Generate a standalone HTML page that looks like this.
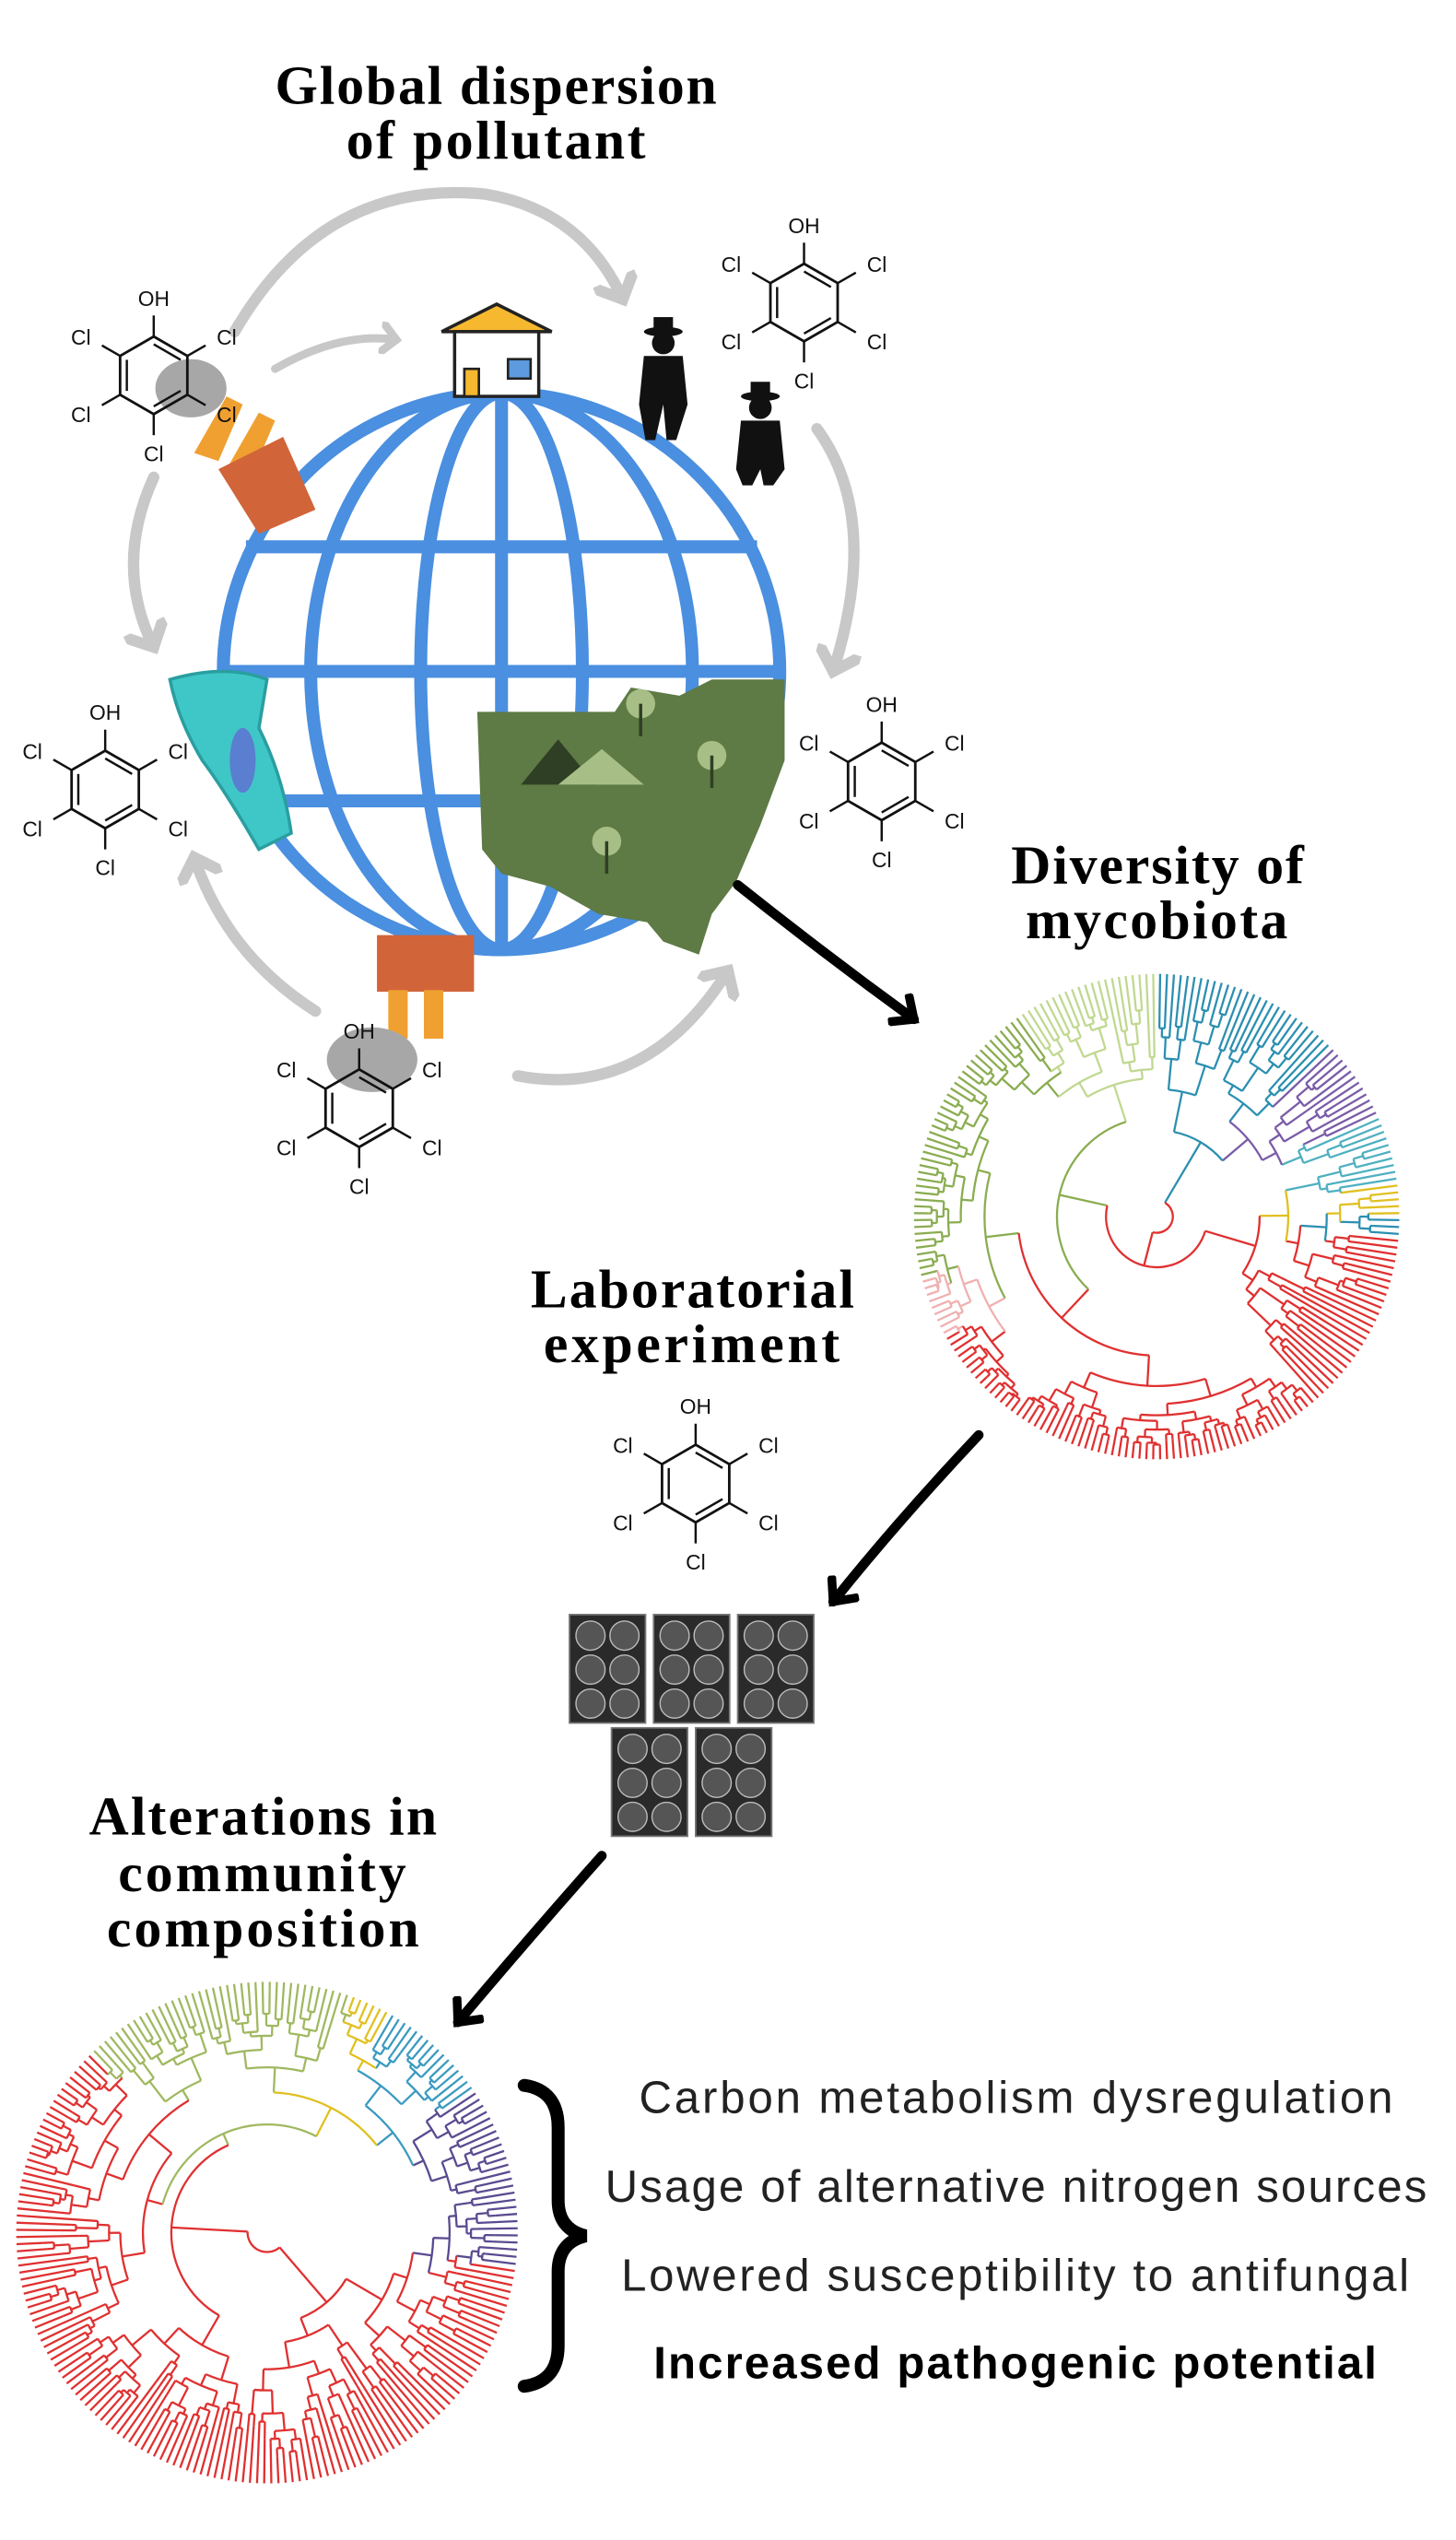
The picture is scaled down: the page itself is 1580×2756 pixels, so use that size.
<!DOCTYPE html>
<html><head><meta charset="utf-8">
<style>
html,body{margin:0;padding:0;background:#fff;}
svg{display:block;}
.t{font-family:"Liberation Serif",serif;font-weight:bold;font-size:34px;fill:#000;}
.r{font-family:"Liberation Sans",sans-serif;font-size:28px;fill:#222;}
.m{font-family:"Liberation Sans",sans-serif;font-size:13px;fill:#111;}
</style></head>
<body>
<svg id="s" width="1580" height="2756" viewBox="0 0 900 1570" xmlns="http://www.w3.org/2000/svg">
<defs>
<marker id="ga" markerWidth="4" markerHeight="4" refX="2" refY="2" orient="auto" markerUnits="strokeWidth"><path d="M0,0 L2,2 L0,4" fill="none" stroke="#c8c8c8" stroke-width="1"/></marker>
<marker id="ba" markerWidth="4" markerHeight="4" refX="2.2" refY="2" orient="auto" markerUnits="strokeWidth"><path d="M0.2,0.2 L2.2,2 L0.2,3.8" fill="none" stroke="#000" stroke-width="0.9"/></marker>
</defs>

<text class="t" x="170" y="64" textLength="273">Global dispersion</text>
<text class="t" x="214" y="98" textLength="185">of pollutant</text>
<text class="t" x="625" y="546" textLength="181">Diversity of</text>
<text class="t" x="634" y="580" textLength="162">mycobiota</text>
<text class="t" x="328" y="808" textLength="200">Laboratorial</text>
<text class="t" x="336" y="842" textLength="183">experiment</text>
<text class="t" x="55" y="1134" textLength="215">Alterations in</text>
<text class="t" x="73" y="1169" textLength="178">community</text>
<text class="t" x="66" y="1203" textLength="193">composition</text>

<g fill="none" stroke="#c8c8c8" stroke-width="7" stroke-linecap="round">
<path d="M145,205 Q200,110 300,120 Q360,130 385,185" marker-end="url(#ga)"/>
<path d="M170,228 Q210,205 245,210" marker-end="url(#ga)" stroke-width="5"/>
<path d="M505,265 Q545,320 515,415" marker-end="url(#ga)"/>
<path d="M95,295 Q70,350 95,400" marker-end="url(#ga)"/>
<path d="M195,625 Q140,590 120,530" marker-end="url(#ga)"/>
<path d="M320,665 Q400,680 450,600" marker-end="url(#ga)"/>
</g>

<g fill="none" stroke="#4a8fe0" stroke-width="8">
<circle cx="310" cy="415" r="172"/>
<ellipse cx="310" cy="415" rx="50" ry="172"/>
<ellipse cx="310" cy="415" rx="118" ry="172"/>
<line x1="310" y1="243" x2="310" y2="587"/>
<line x1="152" y1="338" x2="468" y2="338"/>
<line x1="138" y1="415" x2="482" y2="415"/>
<line x1="152" y1="495" x2="468" y2="495"/>
</g>
<path d="M295,440 L380,440 L390,425 L420,430 L440,420 L485,420 L485,470 L470,510 L455,545 L440,565 L432,590 L410,582 L400,570 L370,565 L340,548 L310,540 L298,525 Z" fill="#5e7a45"/>
<path d="M322,485 L345,457 L368,485 Z" fill="#2f3f25"/>
<path d="M345,485 L372,463 L398,485 Z" fill="#a7bf86"/>
<g fill="#a7bf86"><circle cx="396" cy="435" r="9"/><circle cx="440" cy="467" r="9"/><circle cx="375" cy="520" r="9"/></g>
<g stroke="#2f3f25" stroke-width="2"><line x1="396" y1="435" x2="396" y2="455"/><line x1="440" y1="467" x2="440" y2="487"/><line x1="375" y1="520" x2="375" y2="540"/></g>
<path d="M105,420 Q140,410 165,420 L160,450 Q175,480 180,515 L160,525 Q140,490 125,470 Q110,445 105,420 Z" fill="#3fc7c7" stroke="#2a9ea0" stroke-width="2"/>
<ellipse cx="150" cy="470" rx="8" ry="20" fill="#5a7ed0"/>
<path d="M273,205 L307,188 L341,205 Z" fill="#f5b82e" stroke="#222" stroke-width="2"/>
<rect x="281" y="205" width="52" height="40" fill="#fff" stroke="#222" stroke-width="2"/>
<rect x="287" y="228" width="9" height="17" fill="#f5b82e" stroke="#222" stroke-width="1.5"/>
<rect x="314" y="222" width="14" height="12" fill="#5e9ae0" stroke="#222" stroke-width="1.5"/>
<g fill="#111">
<ellipse cx="410" cy="205" rx="12" ry="3"/><rect x="404" y="196" width="12" height="9"/><circle cx="410" cy="212" r="7"/>
<path d="M398,220 L422,220 L425,250 L418,272 L412,272 L410,250 L405,272 L399,272 L395,250 Z"/>
<ellipse cx="470" cy="245" rx="12" ry="3"/><rect x="464" y="236" width="12" height="9"/><circle cx="470" cy="252" r="7"/>
<path d="M458,260 L482,260 L485,290 L478,300 L472,300 L470,290 L465,300 L459,300 L455,290 Z"/>
</g>
<g>
<path d="M120,280 L140,245 L150,250 L135,285 Z" fill="#f0a030"/>
<path d="M140,290 L160,255 L170,260 L155,295 Z" fill="#f0a030"/>
<path d="M135,290 L175,270 L195,315 L160,330 Z" fill="#d2643a"/>
<ellipse cx="118" cy="240" rx="22" ry="18" fill="#a7a7a7"/>
<rect x="233" y="578" width="60" height="35" fill="#d2643a"/>
<rect x="240" y="612" width="12" height="30" fill="#f0a030"/><rect x="262" y="612" width="12" height="30" fill="#f0a030"/>
<ellipse cx="230" cy="655" rx="28" ry="20" fill="#a7a7a7"/>
</g>
<g id="mols"></g>

<g fill="none" stroke="#000" stroke-width="6" stroke-linecap="round">
<path d="M456,547 Q510,590 565,630" marker-end="url(#ba)"/>
<path d="M605,887 Q555,940 515,990" marker-end="url(#ba)"/>
<path d="M372,1147 Q325,1200 283,1250" marker-end="url(#ba)"/>
</g>

<g id="plates"></g>
<g id="trees" fill="none" stroke-width="1.3"></g>

<path d="M324,1289 Q345,1292 345,1315 L345,1360 Q345,1378 362,1382 Q345,1386 345,1404 L345,1450 Q345,1472 324,1475" fill="none" stroke="#000" stroke-width="8" stroke-linecap="round"/>

<text class="r" x="395" y="1306" textLength="466">Carbon metabolism dysregulation</text>
<text class="r" x="374" y="1361" textLength="508">Usage of alternative nitrogen sources</text>
<text class="r" x="384" y="1416" textLength="487">Lowered susceptibility to antifungal</text>
<text class="r" x="404" y="1470" textLength="447" font-weight="bold" style="fill:#000">Increased pathogenic potential</text>
</svg>
<script>
var NS="http://www.w3.org/2000/svg";
function el(t,a,p){var e=document.createElementNS(NS,t);for(var k in a)e.setAttribute(k,a[k]);(p||document.getElementById('s')).appendChild(e);return e;}
var mg=document.getElementById('mols');
[[95,232],[497,187],[65,488],[545,483],[222,685],[430,917]].forEach(function(c){
 var x=c[0],y=c[1],r=24,pts=[];
 for(var i=0;i<6;i++){var a=Math.PI/180*(-90+60*i);pts.push([x+r*Math.cos(a),y+r*Math.sin(a)]);}
 el('polygon',{points:pts.map(p=>p.join(',')).join(' '),fill:'none',stroke:'#111','stroke-width':1.6},mg);
 [[0,1],[2,3],[4,5]].forEach(function(e){var a=pts[e[0]],b=pts[e[1]];
  function s(p){return [p[0]+(x-p[0])*0.2,p[1]+(y-p[1])*0.2];}var A=s(a),B=s(b);
  el('line',{x1:A[0],y1:A[1],x2:B[0],y2:B[1],stroke:'#111','stroke-width':1.4},mg);});
 for(var i=0;i<6;i++){var a=Math.PI/180*(-90+60*i);
  el('line',{x1:pts[i][0],y1:pts[i][1],x2:x+(r+13)*Math.cos(a),y2:y+(r+13)*Math.sin(a),stroke:'#111','stroke-width':1.4},mg);
  var tx=x+(r+28)*Math.cos(a),ty=y+(r+24)*Math.sin(a)+5;
  var t=el('text',{x:tx,y:ty,'text-anchor':'middle','class':'m'},mg);t.textContent=i==0?'OH':'Cl';}
});
var pg=document.getElementById('plates');
[[352,998],[404,998],[456,998],[378,1068],[430,1068]].forEach(function(p){
 el('rect',{x:p[0],y:p[1],width:47,height:67,fill:'#2a2a2a',stroke:'#777','stroke-width':1},pg);
 for(var i=0;i<3;i++)for(var j=0;j<2;j++)el('circle',{cx:p[0]+13+j*21,cy:p[1]+13+i*21,r:9,fill:'#555',stroke:'#bbb','stroke-width':0.8},pg);
});
var seed=7;function rnd(){seed=(seed*16807)%2147483647;return seed/2147483647;}
var tg=document.getElementById('trees');
function tree(cx,cy,R,a0,a1,n,colf,r0){
 function P(a,r){return [cx+r*Math.cos(a*Math.PI/180),cy+r*Math.sin(a*Math.PI/180)];}
 function rad(a,r1,r2){var A=P(a,r1),B=P(a,r2);el('line',{x1:A[0],y1:A[1],x2:B[0],y2:B[1],stroke:colf(a)},tg);}
 function arc(aA,aB,r){if(Math.abs(aB-aA)<0.01)return;var A=P(aA,r),B=P(aB,r);var lg=Math.abs(aB-aA)>180?1:0;
  el('path',{d:'M'+A[0]+','+A[1]+' A'+r+','+r+' 0 '+lg+' '+(aB>aA?1:0)+' '+B[0]+','+B[1],stroke:colf((aA+aB)/2)},tg);}
 function node(s,e,r,k){
  if(k==1){var a=(s+e)/2;rad(a,r,R);return a;}
  var sp=Math.max(1,Math.min(k-1,Math.round(k*(0.2+rnd()*0.6))));
  var m=s+(e-s)*sp/k;
  var rA=r+(R-r)*(0.08+rnd()*0.25),rB=r+(R-r)*(0.08+rnd()*0.25);
  var cA=node(s,m,rA,sp),cB=node(m,e,rB,k-sp);
  rad(cA,r,rA);rad(cB,r,rB);arc(cA,cB,r);return (cA+cB)/2;
 }
 node(a0,a1,r0,n);
}
tree(715,752,150,-90,270,220,function(a){
 if(a<-45)return '#2b8fb0';if(a<-25)return '#7a5ba8';if(a<-8)return '#4fb0c0';if(a<0)return '#e0c020';
 if(a<5)return '#2b8fb0';if(a<150)return '#e03030';if(a<165)return '#f0b0b0';if(a<235)return '#8aac50';return '#c0d890';},10);
tree(165,1380,155,-10,350,220,function(a){
 if(a<8)return '#5a4a90';if(a<225)return '#e03030';if(a<290)return '#a0b860';if(a<300)return '#e0c020';if(a<325)return '#3a9ac0';return '#5a4a90';},12);
</script>
</body></html>
